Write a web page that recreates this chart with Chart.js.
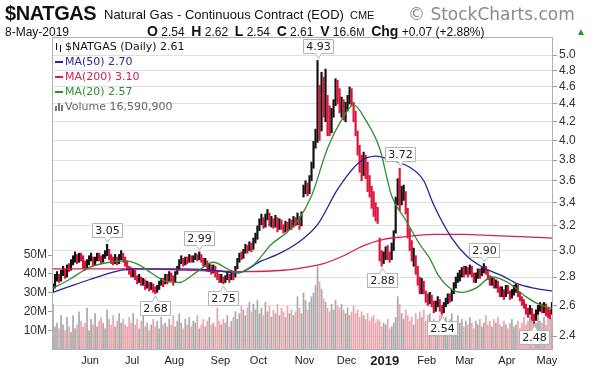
<!DOCTYPE html>
<html lang="en">
<head>
  <meta charset="UTF-8">
  <title>$NATGAS Daily</title>
  <script src="https://cdn.jsdelivr.net/npm/chart.js"></script>
  <style>
    body, html {
      margin: 0;
      padding: 0;
      overflow: hidden;
      width: 600px;
      height: 371px;
      background: #fff;
    }
    #wrap { position: relative; width: 600px; height: 371px; }
    canvas { position: absolute; left: 0; top: 0; }
    .hdr {
      position: absolute;
      white-space: nowrap;
      font-family: "Liberation Sans", Arial, sans-serif;
      color: #111;
    }
    .hdr b { font-size: 14px; }
  </style>
</head>
<body>
<div id="wrap">
  <canvas id="chart" width="600" height="371"></canvas>
  <div class="hdr" style="left:5px;top:2px;font-size:20px;font-weight:bold;letter-spacing:-0.4px">$NATGAS</div>
  <div class="hdr" style="left:104px;top:7px;font-size:13px">Natural Gas - Continuous Contract (EOD)</div>
  <div class="hdr" style="left:350px;top:9px;font-size:11px">CME</div>
  <div class="hdr" style="left:408px;top:4px;font-size:17px;color:#8a8a8a;font-family:'DejaVu Sans'">© StockCharts.com</div>
  <div class="hdr" style="left:5px;top:25px;font-size:12px">8-May-2019</div>
  <div class="hdr" style="left:147px;top:23px;font-size:12px"><b>O</b> 2.54&nbsp; <b>H</b> 2.62&nbsp; <b>L</b> 2.54&nbsp; <b>C</b> 2.61&nbsp; <b>V</b> 16.6<span style="font-size:10px">M</span>&nbsp; <b>Chg</b> +0.07 (+2.88%)</div>
  <div class="hdr" style="left:576px;top:26px;font-size:10px;color:#1a9a1a">▲</div>
</div>

<script>
  // one bar per trading day, 9-May-2018 .. 8-May-2019
  const closes = [
    2.72,2.80,2.81,2.78,2.83,2.85,2.80,2.87,2.86,2.91,2.93,2.95,2.92,2.96,2.94,2.90,                     // May
    2.88,2.91,2.94,2.95,2.90,2.93,2.96,2.95,2.92,2.95,2.97,3.00,2.95,2.93,2.92,2.94,2.91,2.95,2.97,2.93,2.92, // Jun
    2.87,2.85,2.83,2.84,2.80,2.78,2.79,2.76,2.77,2.74,2.75,2.72,2.74,2.71,2.69,2.72,2.75,2.77,2.76,2.80,2.78, // Jul
    2.82,2.80,2.76,2.83,2.86,2.92,2.94,2.90,2.93,2.92,2.95,2.93,2.94,2.96,2.94,2.96,2.93,2.90,2.92,2.86,2.88,2.84,2.87, // Aug
    2.82,2.80,2.78,2.80,2.76,2.79,2.81,2.78,2.83,2.80,2.86,2.92,2.96,2.95,2.99,3.02,3.00,3.05,3.01,      // Sep
    3.08,3.10,3.18,3.23,3.26,3.20,3.28,3.30,3.22,3.25,3.20,3.27,3.18,3.24,3.20,3.15,3.22,3.18,3.24,3.20,3.26,3.22,3.28, // Oct
    3.24,3.30,3.52,3.55,3.50,3.62,3.75,3.95,4.08,4.84,4.13,4.70,4.30,4.35,4.20,4.15,4.30,4.40,4.62,4.55,4.35, // Nov
    4.40,4.30,4.38,4.45,4.55,4.50,4.30,4.15,3.90,3.75,3.70,3.82,3.75,3.60,3.55,3.45,3.35,3.30,3.28,      // Dec
    2.98,2.92,2.95,3.00,2.96,2.94,3.02,3.12,3.40,3.58,3.40,3.48,3.50,3.35,3.14,3.05,2.95,2.98,2.86,2.78,2.72, // Jan
    2.75,2.70,2.66,2.63,2.66,2.62,2.58,2.61,2.64,2.58,2.56,2.60,2.63,2.66,2.64,2.69,2.74,2.78,2.80,      // Feb
    2.82,2.85,2.84,2.86,2.83,2.87,2.82,2.78,2.81,2.84,2.82,2.85,2.87,2.84,2.80,2.76,2.78,2.74,2.76,2.71,2.69, // Mar
    2.70,2.67,2.72,2.70,2.66,2.69,2.71,2.73,2.68,2.65,2.62,2.60,2.56,2.54,2.58,2.52,2.50,2.55,2.58,2.60, // Apr
    2.57,2.60,2.56,2.55,2.54,2.61                                                                        // May
  ];
  const highs = [
    2.75,2.82,2.84,2.82,2.85,2.88,2.86,2.89,2.90,2.93,2.96,2.99,2.97,2.98,2.98,2.96,
    2.92,2.93,2.96,2.98,2.95,2.95,2.98,2.98,2.96,2.97,3.00,3.05,3.01,2.97,2.95,2.97,2.95,2.97,3.00,2.98,2.95,
    2.92,2.88,2.87,2.86,2.85,2.81,2.82,2.80,2.79,2.78,2.77,2.76,2.76,2.75,2.73,2.74,2.77,2.79,2.79,2.82,2.82,
    2.84,2.83,2.81,2.84,2.88,2.93,2.96,2.94,2.95,2.95,2.97,2.96,2.96,2.98,2.97,2.99,2.97,2.94,2.94,2.92,2.90,2.89,2.89,
    2.88,2.84,2.82,2.82,2.80,2.81,2.84,2.82,2.85,2.84,2.88,2.94,2.98,2.99,3.01,3.05,3.04,3.07,3.06,
    3.10,3.14,3.20,3.26,3.30,3.27,3.30,3.34,3.31,3.28,3.26,3.29,3.27,3.26,3.25,3.21,3.24,3.23,3.26,3.25,3.28,3.27,3.31,
    3.28,3.32,3.56,3.60,3.58,3.65,3.78,3.99,4.12,4.93,4.62,4.78,4.72,4.82,4.50,4.38,4.35,4.45,4.70,4.68,4.58,
    4.48,4.45,4.42,4.50,4.60,4.58,4.42,4.32,4.10,3.95,3.85,3.88,3.85,3.78,3.65,3.55,3.50,3.40,3.36,
    3.10,3.00,2.99,3.03,3.04,2.99,3.06,3.16,3.45,3.62,3.72,3.55,3.56,3.50,3.35,3.18,3.08,3.02,2.96,2.88,2.80,
    2.79,2.77,2.70,2.68,2.69,2.67,2.63,2.63,2.66,2.64,2.60,2.62,2.65,2.68,2.68,2.71,2.76,2.80,2.83,
    2.85,2.87,2.88,2.88,2.87,2.89,2.88,2.83,2.83,2.86,2.86,2.87,2.90,2.88,2.85,2.81,2.80,2.79,2.78,2.77,2.73,
    2.73,2.71,2.74,2.74,2.70,2.71,2.74,2.75,2.74,2.69,2.66,2.64,2.61,2.58,2.60,2.58,2.54,2.57,2.60,2.62,
    2.61,2.62,2.61,2.58,2.57,2.62
  ];
  const lows = [
    2.69,2.72,2.77,2.76,2.77,2.81,2.79,2.80,2.84,2.85,2.89,2.91,2.90,2.91,2.92,2.86,
    2.85,2.86,2.89,2.92,2.88,2.89,2.92,2.92,2.90,2.91,2.94,2.96,2.93,2.90,2.89,2.90,2.89,2.90,2.93,2.91,2.88,
    2.85,2.82,2.80,2.80,2.78,2.75,2.76,2.74,2.74,2.71,2.72,2.70,2.71,2.69,2.68,2.69,2.71,2.74,2.73,2.75,2.75,
    2.77,2.77,2.74,2.76,2.82,2.85,2.90,2.88,2.89,2.90,2.91,2.91,2.91,2.93,2.92,2.93,2.91,2.88,2.88,2.84,2.84,2.82,2.83,
    2.80,2.78,2.76,2.76,2.75,2.76,2.78,2.76,2.78,2.78,2.80,2.86,2.91,2.93,2.94,2.98,2.98,3.00,2.99,
    3.01,3.06,3.09,3.16,3.21,3.18,3.19,3.25,3.20,3.19,3.18,3.19,3.15,3.17,3.17,3.14,3.15,3.16,3.17,3.17,3.19,3.20,3.21,
    3.17,3.20,3.45,3.48,3.46,3.48,3.60,3.72,3.92,3.98,4.00,4.10,4.25,4.20,4.05,4.05,4.08,4.25,4.38,4.40,4.30,
    4.25,4.22,4.20,4.32,4.40,4.38,4.20,4.05,3.85,3.68,3.60,3.65,3.62,3.50,3.45,3.35,3.28,3.24,3.22,
    2.92,2.88,2.90,2.93,2.93,2.91,2.93,3.00,3.14,3.38,3.33,3.38,3.42,3.30,3.10,3.00,2.92,2.88,2.82,2.74,2.68,
    2.68,2.68,2.62,2.60,2.61,2.59,2.55,2.56,2.59,2.56,2.54,2.55,2.59,2.61,2.62,2.63,2.68,2.72,2.76,
    2.77,2.80,2.80,2.82,2.80,2.82,2.80,2.76,2.76,2.79,2.79,2.81,2.83,2.82,2.78,2.74,2.74,2.72,2.72,2.69,2.66,
    2.66,2.64,2.66,2.68,2.64,2.65,2.67,2.69,2.66,2.63,2.60,2.58,2.54,2.52,2.54,2.50,2.48,2.50,2.54,2.56,
    2.55,2.55,2.53,2.52,2.51,2.54
  ];
  // volume, millions of contracts
  const volumes = [
    24,12,14,11,18,13,10,17,12,9,18,11,13,20,15,12,
    14,22,10,16,13,19,12,15,17,14,11,21,16,13,18,12,15,19,14,16,13,
    12,17,14,19,13,16,11,15,18,12,14,10,13,16,12,15,11,17,13,14,12,
    16,13,18,12,15,19,14,11,16,13,17,12,15,14,18,11,13,16,12,15,17,13,14,
    12,22,15,13,16,14,18,12,15,17,20,16,19,23,21,18,22,25,20,
    24,21,26,19,22,18,25,20,23,17,21,19,24,18,22,20,17,23,19,21,18,20,28,
    22,19,30,26,21,25,28,30,34,44,36,32,27,25,22,20,24,21,26,23,22,
    24,21,19,22,18,20,23,19,21,17,20,18,16,19,15,17,18,14,16,
    15,12,14,13,16,11,12,14,17,28,24,19,16,21,18,15,17,13,19,16,20,
    17,21,15,18,19,14,16,12,15,18,20,13,17,14,16,19,13,15,18,
    14,16,12,15,13,17,14,11,15,13,16,12,14,18,13,15,12,16,14,17,13,
    12,15,13,11,14,16,12,13,15,11,14,17,13,15,18,16,19,14,22,15,
    14,17,13,18,22,16.6
  ];

  // moving averages (day index, value)
  const ma20Days = [0, 8, 18, 28, 36, 43, 49, 56, 63, 72, 80, 87, 91, 100, 109, 117, 122, 129, 137, 144, 150, 156, 163, 169, 176, 183, 188, 192, 199, 204, 211, 219, 227, 236, 242, 249];
  const ma20Vals = [2.72, 2.78, 2.87, 2.91, 2.92, 2.89, 2.83, 2.77, 2.76, 2.84, 2.91, 2.86, 2.83, 2.89, 3.05, 3.15, 3.24, 3.46, 3.92, 4.22, 4.39, 4.22, 3.92, 3.46, 3.25, 3.05, 2.94, 2.82, 2.71, 2.69, 2.72, 2.80, 2.76, 2.66, 2.61, 2.58];
  const ma50Days = [0, 8, 18, 31, 40, 63, 80, 92, 104, 112, 122, 132, 142, 153, 161, 169, 178, 185, 190, 199, 207, 216, 224, 232, 240, 249];
  const ma50Vals = [2.69, 2.73, 2.78, 2.84, 2.86, 2.86, 2.85, 2.83, 2.92, 2.97, 3.06, 3.21, 3.52, 3.78, 3.84, 3.80, 3.73, 3.60, 3.38, 3.10, 2.95, 2.86, 2.81, 2.75, 2.72, 2.70];
  const ma200Days = [0, 40, 70, 95, 115, 125, 135, 145, 155, 165, 175, 190, 205, 220, 236, 249];
  const ma200Vals = [2.86, 2.86, 2.85, 2.84, 2.85, 2.87, 2.90, 2.96, 3.04, 3.09, 3.11, 3.13, 3.13, 3.12, 3.11, 3.10];

  // x axis: first trading day of each month
  const monthDays = [16, 37, 58, 81, 100, 123, 144, 163, 184, 203, 224, 244];
  const monthNames = ['Jun', 'Jul', 'Aug', 'Sep', 'Oct', 'Nov', 'Dec', '2019', 'Feb', 'Mar', 'Apr', 'May'];
  const priceTicks = [2.4, 2.6, 2.8, 3.0, 3.2, 3.4, 3.6, 3.8, 4.0, 4.2, 4.4, 4.6, 4.8, 5.0];
  const volumeTicks = [10, 20, 30, 40, 50];

  // high / low call-outs
  const noteDays = [27, 51, 73, 85, 132, 164, 173, 194, 215, 240];
  const noteVals = [3.05, 2.68, 2.99, 2.75, 4.93, 2.88, 3.72, 2.54, 2.90, 2.48];
  const noteSide = ['up', 'down', 'up', 'down', 'up', 'down', 'up', 'down', 'up', 'down'];

  const legendRows = ['$NATGAS (Daily) 2.61', 'MA(50) 2.70', 'MA(200) 3.10', 'MA(20) 2.57', 'Volume 16,590,900'];

  const UP = '#111111', DOWN = '#dc143c';
  const BLUE = '#26269a', RED = '#d42050', GREEN = '#2f8f2f';

  const days = closes.map((c, i) => i);
  const upDay = closes.map((c, i) => i === 0 || c >= closes[i - 1]);
  const monthAt = {};
  monthDays.forEach((d, k) => { monthAt[d] = monthNames[k]; });

  const toPts = (ds, vs) => ds.map((d, k) => ({ x: d, y: vs[k] }));

  const decorations = {
    id: 'decorations',
    afterDatasetsDraw(chart) {
      const { ctx, scales } = chart;
      const sx = scales.x, sy = scales.y;
      ctx.save();
      ctx.font = '11px "DejaVu Sans", sans-serif';
      ctx.textAlign = 'center';
      ctx.textBaseline = 'middle';
      ctx.lineWidth = 1;
      noteDays.forEach((d, k) => {
        const x = Math.round(sx.getPixelForValue(d)) + 0.5;
        const y = sy.getPixelForValue(noteVals[k]);
        const txt = noteVals[k].toFixed(2);
        const w = Math.round(ctx.measureText(txt).width) + 6, h = 14;
        const up = noteSide[k] === 'up';
        const top = Math.round(up ? y - 7 - h : y + 7) + 0.5;
        ctx.beginPath();
        if (up) {
          ctx.moveTo(x - w / 2, top);
          ctx.lineTo(x + w / 2, top);
          ctx.lineTo(x + w / 2, top + h);
          ctx.lineTo(x + 3, top + h);
          ctx.lineTo(x, y - 2);
          ctx.lineTo(x - 3, top + h);
          ctx.lineTo(x - w / 2, top + h);
        } else {
          ctx.moveTo(x - w / 2, top);
          ctx.lineTo(x - 3, top);
          ctx.lineTo(x, y + 2);
          ctx.lineTo(x + 3, top);
          ctx.lineTo(x + w / 2, top);
          ctx.lineTo(x + w / 2, top + h);
          ctx.lineTo(x - w / 2, top + h);
        }
        ctx.closePath();
        ctx.fillStyle = 'rgba(255,255,255,0.95)';
        ctx.fill();
        ctx.strokeStyle = '#b4b4b4';
        ctx.stroke();
        ctx.fillStyle = '#222';
        ctx.fillText(txt, x, top + h / 2 + 0.5);
      });
      ctx.restore();
    },
    afterDraw(chart) {
      const { ctx, chartArea: a } = chart;
      ctx.save();
      // plot frame
      ctx.strokeStyle = '#b0b0b0';
      ctx.lineWidth = 1;
      ctx.strokeRect(a.left + 0.5, a.top + 0.5, a.right - a.left - 1, a.bottom - a.top - 1);

      // legend block
      const x0 = a.left + 3;
      const rowY = [a.top + 10, a.top + 25, a.top + 40, a.top + 55, a.top + 70];
      const cols = ['#111', BLUE, RED, GREEN, '#666'];
      ctx.font = '11px "DejaVu Sans", sans-serif';
      ctx.textBaseline = 'middle';
      ctx.textAlign = 'left';
      // bar icon
      ctx.strokeStyle = '#111';
      ctx.beginPath();
      ctx.moveTo(x0 + 1.5, rowY[0] - 4); ctx.lineTo(x0 + 1.5, rowY[0] + 3);
      ctx.moveTo(x0 + 5.5, rowY[0] - 2); ctx.lineTo(x0 + 5.5, rowY[0] + 5);
      ctx.stroke();
      // line swatches
      [1, 2, 3].forEach(r => {
        ctx.strokeStyle = cols[r];
        ctx.lineWidth = 2;
        ctx.beginPath();
        ctx.moveTo(x0, rowY[r]); ctx.lineTo(x0 + 8, rowY[r]);
        ctx.stroke();
      });
      // volume icon
      ctx.fillStyle = '#777';
      ctx.fillRect(x0, rowY[4] - 1, 2, 5);
      ctx.fillRect(x0 + 3, rowY[4] - 4, 2, 8);
      ctx.fillRect(x0 + 6, rowY[4] - 2, 2, 6);
      legendRows.forEach((t, r) => {
        ctx.fillStyle = cols[r];
        ctx.fillText(t, x0 + 10, rowY[r]);
      });
      ctx.restore();
    }
  };

  const ctx = document.getElementById('chart').getContext('2d');
  new Chart(ctx, {
    data: {
      labels: days,
      datasets: [
        {
          type: 'line',
          label: 'MA(20)',
          data: toPts(ma20Days, ma20Vals),
          yAxisID: 'y',
          borderColor: GREEN,
          borderWidth: 1.3,
          pointRadius: 0,
          cubicInterpolationMode: 'monotone',
          order: 1
        },
        {
          type: 'line',
          label: 'MA(50)',
          data: toPts(ma50Days, ma50Vals),
          yAxisID: 'y',
          borderColor: BLUE,
          borderWidth: 1.3,
          pointRadius: 0,
          cubicInterpolationMode: 'monotone',
          order: 2
        },
        {
          type: 'line',
          label: 'MA(200)',
          data: toPts(ma200Days, ma200Vals),
          yAxisID: 'y',
          borderColor: RED,
          borderWidth: 1.3,
          pointRadius: 0,
          cubicInterpolationMode: 'monotone',
          order: 3
        },
        {
          type: 'bar',
          label: '$NATGAS',
          data: lows.map((l, i) => [l, highs[i]]),
          yAxisID: 'y',
          backgroundColor: upDay.map(u => (u ? UP : DOWN)),
          barThickness: 1.5,
          grouped: false,
          order: 5
        },
        {
          type: 'bar',
          label: 'Volume',
          data: volumes,
          yAxisID: 'yv',
          backgroundColor: upDay.map(u => (u ? '#a9a9a9' : '#eaa5ad')),
          barPercentage: 0.85,
          categoryPercentage: 1,
          grouped: false,
          order: 10
        }
      ]
    },
    options: {
      responsive: false,
      animation: false,
      events: [],
      layout: { padding: { top: 37, left: 0, right: 0, bottom: 0 } },
      plugins: {
        legend: { display: false },
        tooltip: { enabled: false }
      },
      scales: {
        x: {
          type: 'category',
          offset: true,
          border: { display: false },
          grid: {
            offset: true,
            drawTicks: false,
            color: c => (monthAt[c.index] ? '#dcdcdc' : 'rgba(0,0,0,0)')
          },
          ticks: {
            autoSkip: false,
            maxRotation: 0,
            padding: 4,
            labelOffset: 5,
            color: '#222',
            font: c => (c.tick && c.tick.label === '2019'
              ? { family: '"Liberation Sans", Arial, sans-serif', size: 13, weight: 'bold' }
              : { family: '"Liberation Sans", Arial, sans-serif', size: 11 }),
            callback: (v, i) => (monthAt[i] !== undefined ? monthAt[i] : null)
          },
          afterFit: s => { s.height = 21; }
        },
        y: {
          type: 'logarithmic',
          position: 'right',
          min: 2.314,
          max: 5.241,
          bounds: 'data',
          border: { display: false },
          grid: { color: '#e0e0e0', tickLength: 4, tickColor: '#9a9a9a' },
          afterBuildTicks: s => { s.ticks = priceTicks.map(v => ({ value: v })); },
          ticks: {
            padding: 2,
            color: '#333',
            font: { family: '"Liberation Sans", Arial, sans-serif', size: 12 },
            callback: v => Number(v).toFixed(1)
          },
          afterFit: s => { s.width = 47; }
        },
        yv: {
          type: 'linear',
          position: 'left',
          min: -0.53,
          max: 166,
          bounds: 'data',
          border: { display: false },
          grid: { drawOnChartArea: false, tickLength: 4, color: '#9a9a9a' },
          afterBuildTicks: s => { s.ticks = volumeTicks.map(v => ({ value: v })); },
          ticks: {
            padding: 1,
            color: '#333',
            font: { family: '"Liberation Sans", Arial, sans-serif', size: 12 },
            callback: v => v + 'M'
          },
          afterFit: s => { s.width = 52; }
        }
      }
    },
    plugins: [decorations]
  });
</script>
</body>
</html>
